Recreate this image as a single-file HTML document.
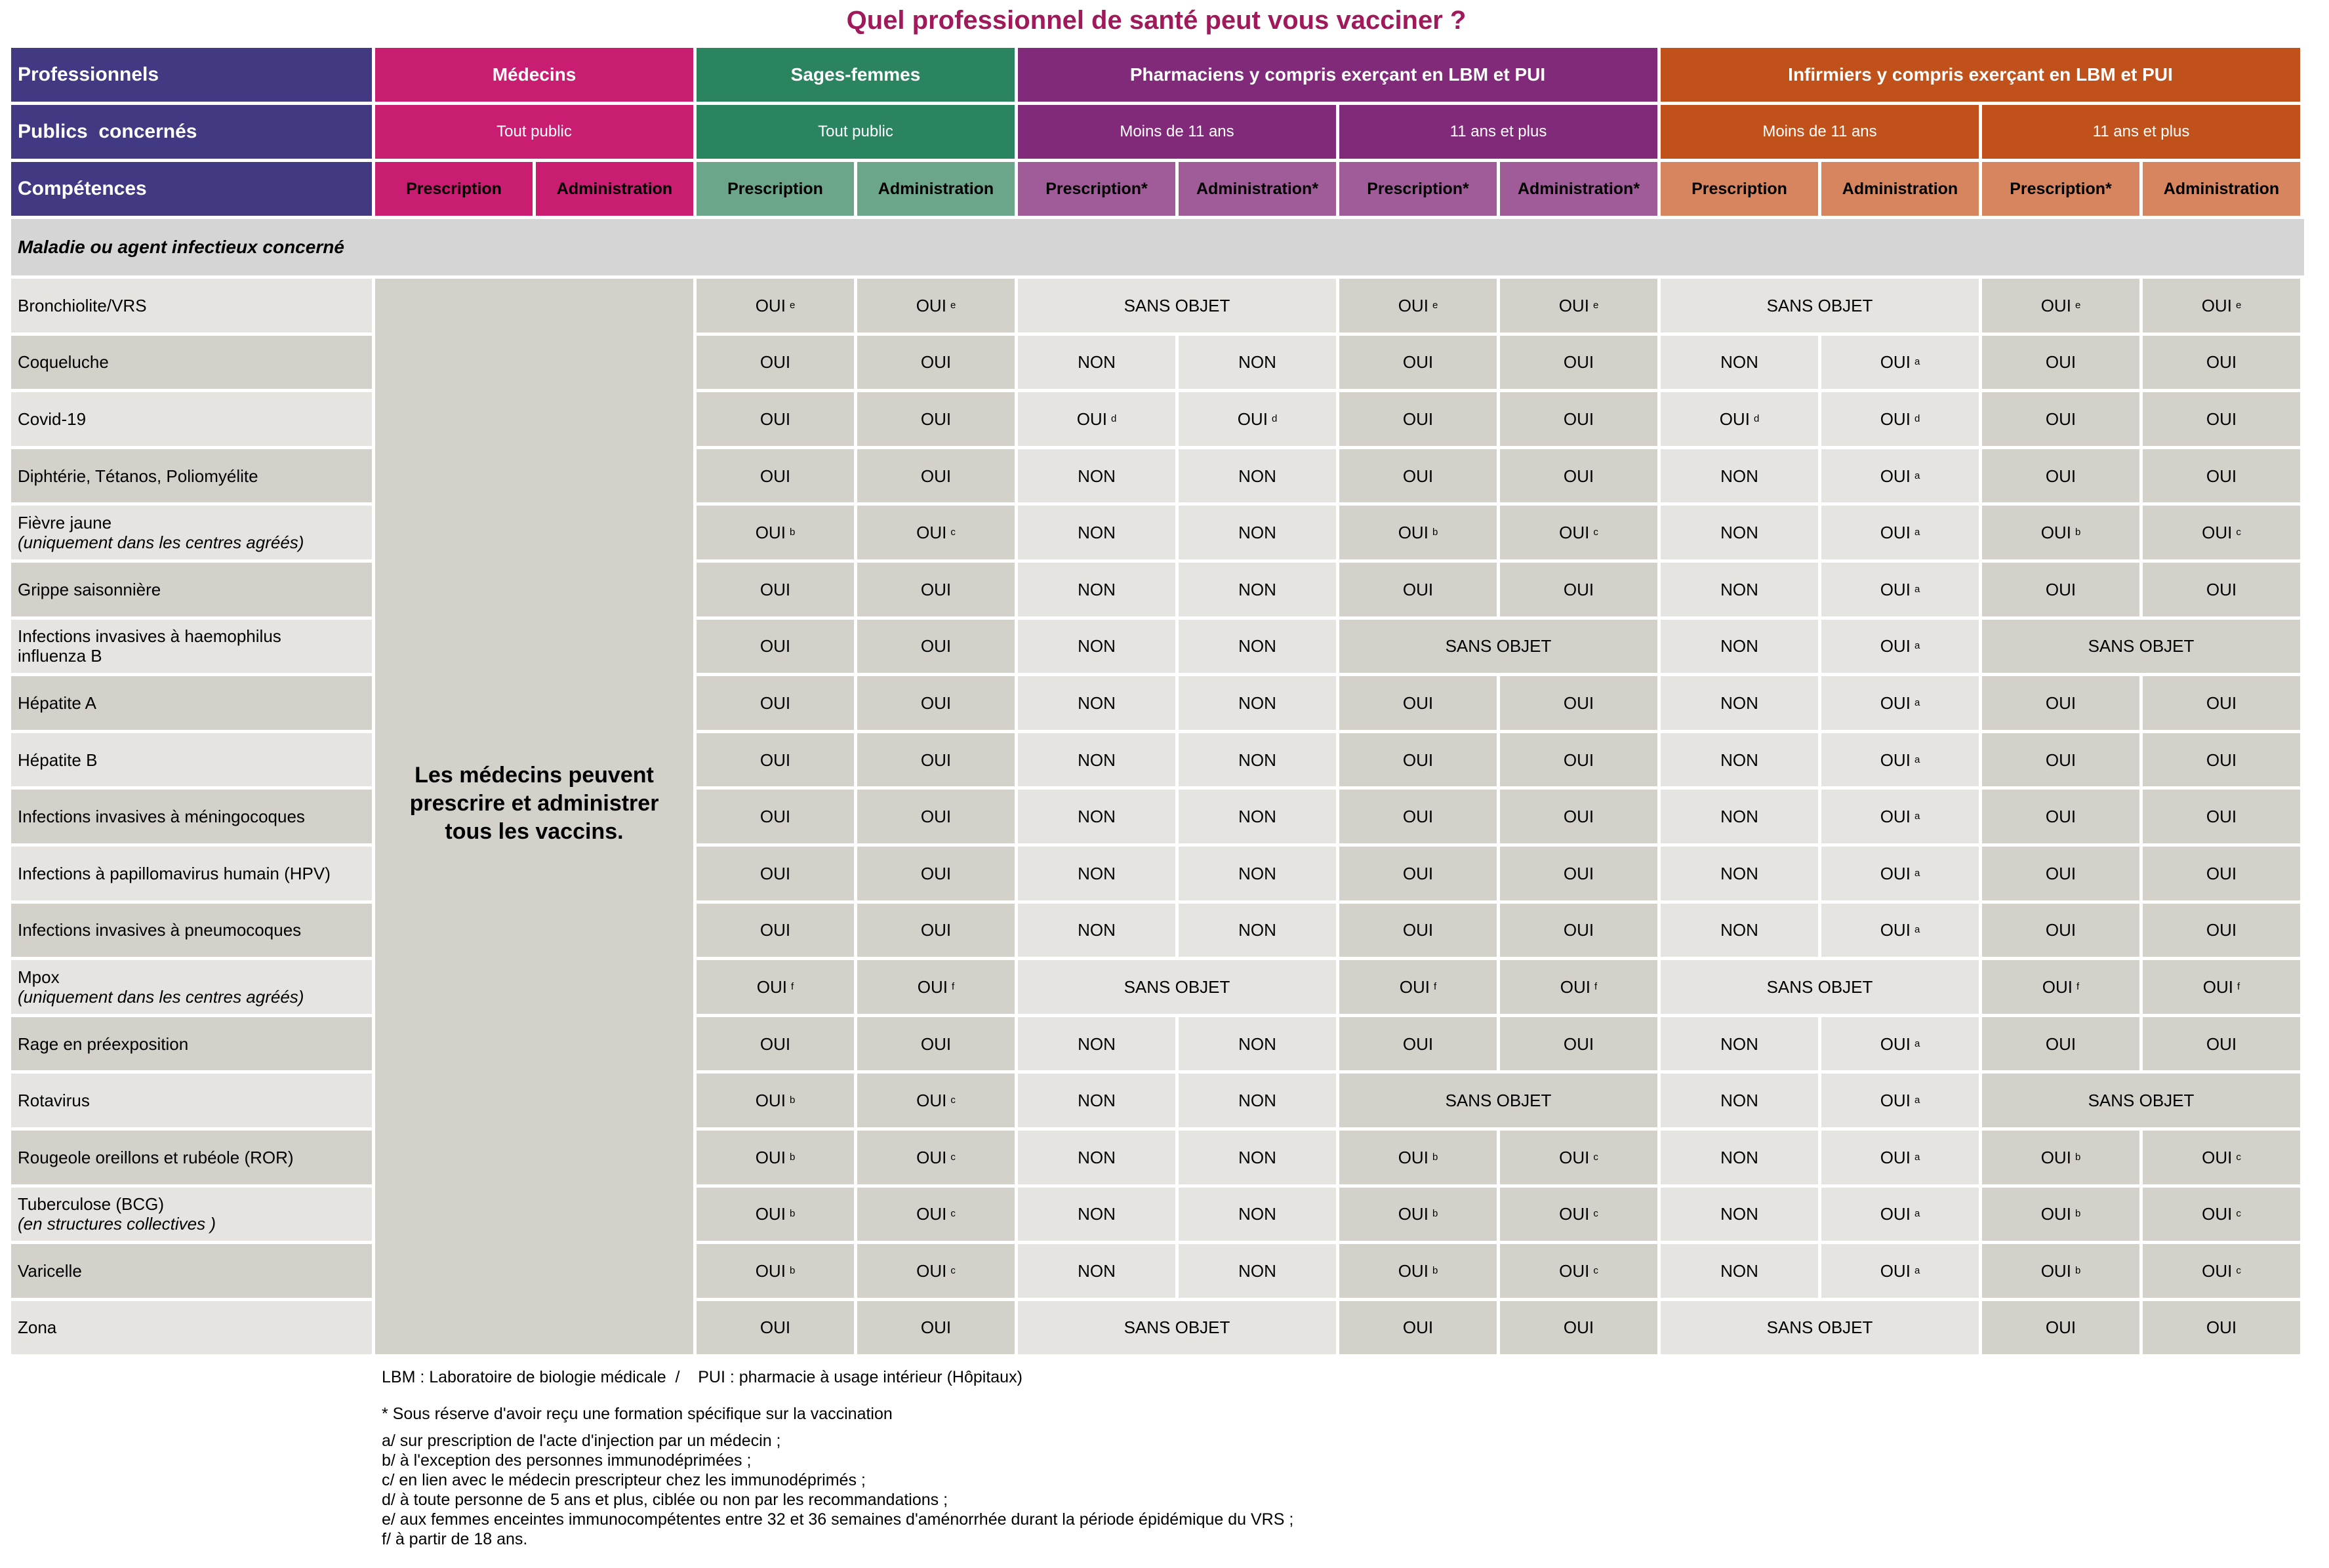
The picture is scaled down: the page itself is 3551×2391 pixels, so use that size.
<!DOCTYPE html>
<html><head><meta charset="utf-8"><style>
*{margin:0;padding:0;box-sizing:border-box}
body{width:3551px;height:2391px;background:#fff;position:relative;overflow:hidden;font-family:"Liberation Sans",Arial,sans-serif;color:#000}
.t{position:absolute;left:0;width:3526px;top:11px;text-align:center;font-size:40px;line-height:40px;font-weight:bold;color:#a0195a}
.g{position:absolute;left:17px;top:73px;display:grid;grid-template-columns:550px repeat(12,240px);grid-template-rows:82px 82px 82px 86px repeat(19,81.6px);gap:5px}
.g>div{display:flex;align-items:center;justify-content:center;text-align:center;font-size:26px;line-height:30px}
.h{background:#413a82;color:#fff;font-weight:bold;font-size:30px!important;justify-content:flex-start!important;padding-left:10px}
.m1{background:#c91d71;color:#fff;font-weight:bold;font-size:28px!important}
.m2{background:#c91d71;color:#fff;font-size:24px!important}
.m3{background:#c91d71;font-weight:bold;font-size:25px!important}
.s1{background:#2a8460;color:#fff;font-weight:bold;font-size:28px!important}
.s2{background:#2a8460;color:#fff;font-size:24px!important}
.s3{background:#6ba68a;font-weight:bold;font-size:25px!important}
.p1{background:#822a7a;color:#fff;font-weight:bold;font-size:28px!important}
.p2{background:#822a7a;color:#fff;font-size:24px!important}
.p3{background:#a05c98;font-weight:bold;font-size:25px!important}
.o1{background:#c1511a;color:#fff;font-weight:bold;font-size:28px!important}
.o2{background:#c1511a;color:#fff;font-size:24px!important}
.o3{background:#d6855f;font-weight:bold;font-size:25px!important}
.c2{grid-column:span 2}.c4{grid-column:span 4}
.mal{grid-column:1/span 13;background:#d5d5d5;font-weight:bold;font-style:italic;font-size:28px!important;justify-content:flex-start!important;padding-left:10px;margin-right:-6px}
.L{background:#e5e4e0}.D{background:#d4d1ca}
.n{justify-content:flex-start!important;text-align:left!important;padding-left:10px;flex-direction:column;align-items:flex-start!important}
.g>div.n{display:flex;justify-content:center!important}
.n i{font-style:italic}
.med{grid-column:2/span 2;grid-row:5/span 19;background:#d4d1ca;font-weight:bold;font-size:34px!important;line-height:43px!important;padding-bottom:40px}
sup{font-size:15px;vertical-align:9px;margin-left:6px}
.f{position:absolute;left:582px;font-size:25px;line-height:30px;white-space:pre}
</style></head><body>
<div class="t">Quel professionnel de santé peut vous vacciner ?</div>
<div class="g">
<div class="h">Professionnels</div><div class="m1 c2">Médecins</div><div class="s1 c2">Sages-femmes</div><div class="p1 c4">Pharmaciens y compris exerçant en LBM et PUI</div><div class="o1 c4">Infirmiers y compris exerçant en LBM et PUI</div>
<div class="h">Publics&nbsp; concernés</div><div class="m2 c2">Tout public</div><div class="s2 c2">Tout public</div><div class="p2 c2">Moins de 11 ans</div><div class="p2 c2">11 ans et plus</div><div class="o2 c2">Moins de 11 ans</div><div class="o2 c2">11 ans et plus</div>
<div class="h">Compétences</div><div class="m3">Prescription</div><div class="m3">Administration</div><div class="s3">Prescription</div><div class="s3">Administration</div><div class="p3">Prescription*</div><div class="p3">Administration*</div><div class="p3">Prescription*</div><div class="p3">Administration*</div><div class="o3">Prescription</div><div class="o3">Administration</div><div class="o3">Prescription*</div><div class="o3">Administration</div>
<div class="mal">Maladie ou agent infectieux concerné</div>
<div class="med">Les médecins peuvent<br>prescrire et administrer<br>tous les vaccins.</div>

<div class="n L">Bronchiolite/VRS</div><div class="D">OUI<sup>e</sup></div><div class="D">OUI<sup>e</sup></div><div class="L c2">SANS OBJET</div><div class="D">OUI<sup>e</sup></div><div class="D">OUI<sup>e</sup></div><div class="L c2">SANS OBJET</div><div class="D">OUI<sup>e</sup></div><div class="D">OUI<sup>e</sup></div>

<div class="n D">Coqueluche</div><div class="D">OUI</div><div class="D">OUI</div><div class="L">NON</div><div class="L">NON</div><div class="D">OUI</div><div class="D">OUI</div><div class="L">NON</div><div class="L">OUI<sup>a</sup></div><div class="D">OUI</div><div class="D">OUI</div>

<div class="n L">Covid-19</div><div class="D">OUI</div><div class="D">OUI</div><div class="L">OUI<sup>d</sup></div><div class="L">OUI<sup>d</sup></div><div class="D">OUI</div><div class="D">OUI</div><div class="L">OUI<sup>d</sup></div><div class="L">OUI<sup>d</sup></div><div class="D">OUI</div><div class="D">OUI</div>

<div class="n D">Diphtérie, Tétanos, Poliomyélite</div><div class="D">OUI</div><div class="D">OUI</div><div class="L">NON</div><div class="L">NON</div><div class="D">OUI</div><div class="D">OUI</div><div class="L">NON</div><div class="L">OUI<sup>a</sup></div><div class="D">OUI</div><div class="D">OUI</div>

<div class="n L"><span>Fièvre jaune</span><i>(uniquement dans les centres agréés)</i></div><div class="D">OUI<sup>b</sup></div><div class="D">OUI<sup>c</sup></div><div class="L">NON</div><div class="L">NON</div><div class="D">OUI<sup>b</sup></div><div class="D">OUI<sup>c</sup></div><div class="L">NON</div><div class="L">OUI<sup>a</sup></div><div class="D">OUI<sup>b</sup></div><div class="D">OUI<sup>c</sup></div>

<div class="n D">Grippe saisonnière</div><div class="D">OUI</div><div class="D">OUI</div><div class="L">NON</div><div class="L">NON</div><div class="D">OUI</div><div class="D">OUI</div><div class="L">NON</div><div class="L">OUI<sup>a</sup></div><div class="D">OUI</div><div class="D">OUI</div>

<div class="n L"><span>Infections invasives à haemophilus</span><span>influenza B</span></div><div class="D">OUI</div><div class="D">OUI</div><div class="L">NON</div><div class="L">NON</div><div class="D c2">SANS OBJET</div><div class="L">NON</div><div class="L">OUI<sup>a</sup></div><div class="D c2">SANS OBJET</div>

<div class="n D">Hépatite A</div><div class="D">OUI</div><div class="D">OUI</div><div class="L">NON</div><div class="L">NON</div><div class="D">OUI</div><div class="D">OUI</div><div class="L">NON</div><div class="L">OUI<sup>a</sup></div><div class="D">OUI</div><div class="D">OUI</div>

<div class="n L">Hépatite B</div><div class="D">OUI</div><div class="D">OUI</div><div class="L">NON</div><div class="L">NON</div><div class="D">OUI</div><div class="D">OUI</div><div class="L">NON</div><div class="L">OUI<sup>a</sup></div><div class="D">OUI</div><div class="D">OUI</div>

<div class="n D">Infections invasives à méningocoques</div><div class="D">OUI</div><div class="D">OUI</div><div class="L">NON</div><div class="L">NON</div><div class="D">OUI</div><div class="D">OUI</div><div class="L">NON</div><div class="L">OUI<sup>a</sup></div><div class="D">OUI</div><div class="D">OUI</div>

<div class="n L">Infections à papillomavirus humain (HPV)</div><div class="D">OUI</div><div class="D">OUI</div><div class="L">NON</div><div class="L">NON</div><div class="D">OUI</div><div class="D">OUI</div><div class="L">NON</div><div class="L">OUI<sup>a</sup></div><div class="D">OUI</div><div class="D">OUI</div>

<div class="n D">Infections invasives à pneumocoques</div><div class="D">OUI</div><div class="D">OUI</div><div class="L">NON</div><div class="L">NON</div><div class="D">OUI</div><div class="D">OUI</div><div class="L">NON</div><div class="L">OUI<sup>a</sup></div><div class="D">OUI</div><div class="D">OUI</div>

<div class="n L"><span>Mpox</span><i>(uniquement dans les centres agréés)</i></div><div class="D">OUI<sup>f</sup></div><div class="D">OUI<sup>f</sup></div><div class="L c2">SANS OBJET</div><div class="D">OUI<sup>f</sup></div><div class="D">OUI<sup>f</sup></div><div class="L c2">SANS OBJET</div><div class="D">OUI<sup>f</sup></div><div class="D">OUI<sup>f</sup></div>

<div class="n D">Rage en préexposition</div><div class="D">OUI</div><div class="D">OUI</div><div class="L">NON</div><div class="L">NON</div><div class="D">OUI</div><div class="D">OUI</div><div class="L">NON</div><div class="L">OUI<sup>a</sup></div><div class="D">OUI</div><div class="D">OUI</div>

<div class="n L">Rotavirus</div><div class="D">OUI<sup>b</sup></div><div class="D">OUI<sup>c</sup></div><div class="L">NON</div><div class="L">NON</div><div class="D c2">SANS OBJET</div><div class="L">NON</div><div class="L">OUI<sup>a</sup></div><div class="D c2">SANS OBJET</div>

<div class="n D">Rougeole oreillons et rubéole (ROR)</div><div class="D">OUI<sup>b</sup></div><div class="D">OUI<sup>c</sup></div><div class="L">NON</div><div class="L">NON</div><div class="D">OUI<sup>b</sup></div><div class="D">OUI<sup>c</sup></div><div class="L">NON</div><div class="L">OUI<sup>a</sup></div><div class="D">OUI<sup>b</sup></div><div class="D">OUI<sup>c</sup></div>

<div class="n L"><span>Tuberculose (BCG)</span><i>(en structures collectives )</i></div><div class="D">OUI<sup>b</sup></div><div class="D">OUI<sup>c</sup></div><div class="L">NON</div><div class="L">NON</div><div class="D">OUI<sup>b</sup></div><div class="D">OUI<sup>c</sup></div><div class="L">NON</div><div class="L">OUI<sup>a</sup></div><div class="D">OUI<sup>b</sup></div><div class="D">OUI<sup>c</sup></div>

<div class="n D">Varicelle</div><div class="D">OUI<sup>b</sup></div><div class="D">OUI<sup>c</sup></div><div class="L">NON</div><div class="L">NON</div><div class="D">OUI<sup>b</sup></div><div class="D">OUI<sup>c</sup></div><div class="L">NON</div><div class="L">OUI<sup>a</sup></div><div class="D">OUI<sup>b</sup></div><div class="D">OUI<sup>c</sup></div>

<div class="n L">Zona</div><div class="D">OUI</div><div class="D">OUI</div><div class="L c2">SANS OBJET</div><div class="D">OUI</div><div class="D">OUI</div><div class="L c2">SANS OBJET</div><div class="D">OUI</div><div class="D">OUI</div>
</div>
<div class="f" style="top:2085px">LBM : Laboratoire de biologie médicale  /    PUI : pharmacie à usage intérieur (Hôpitaux)</div>
<div class="f" style="top:2141px">* Sous réserve d'avoir reçu une formation spécifique sur la vaccination</div>
<div class="f" style="top:2182px">a/ sur prescription de l'acte d'injection par un médecin ;
b/ à l'exception des personnes immunodéprimées ;
c/ en lien avec le médecin prescripteur chez les immunodéprimés ;
d/ à toute personne de 5 ans et plus, ciblée ou non par les recommandations ;
e/ aux femmes enceintes immunocompétentes entre 32 et 36 semaines d'aménorrhée durant la période épidémique du VRS ;
f/ à partir de 18 ans.</div>
</body></html>
